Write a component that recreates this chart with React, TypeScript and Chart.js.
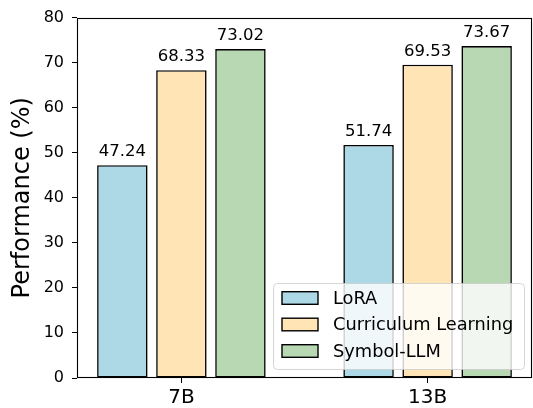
import React, { useEffect, useRef } from 'react';
import { Chart, registerables } from 'chart.js';

Chart.register(...registerables);

const FONT = "'DejaVu Sans', sans-serif";

const categories = ['7B', '13B'];
const seriesLabels = ['LoRA', 'Curriculum Learning', 'Symbol-LLM'];
const loraValues = [47.24, 51.74];
const curriculumValues = [68.33, 69.53];
const symbolLlmValues = [73.02, 73.67];
const seriesColors = ['#add8e6', '#ffe4b5', '#b8d8b4'];
const yMin = 0;
const yMax = 80;
const yStep = 10;

const barLabelPlugin = {
  id: 'barLabels',
  afterDatasetsDraw(chart: any) {
    const ctx = chart.ctx;
    ctx.save();
    ctx.font = `16.5px ${FONT}`;
    ctx.fillStyle = '#000';
    ctx.textAlign = 'center';
    ctx.textBaseline = 'alphabetic';
    chart.data.datasets.forEach((ds: any, i: number) => {
      const meta = chart.getDatasetMeta(i);
      meta.data.forEach((el: any, j: number) => {
        const v = ds.data[j].y;
        ctx.fillText(v.toFixed(2), el.x, el.y - 9);
      });
    });
    ctx.restore();
  },
};

const framePlugin = {
  id: 'frame',
  afterDatasetsDraw(chart: any) {
    const { left, top, right, bottom } = chart.chartArea;
    const ctx = chart.ctx;
    ctx.save();
    ctx.strokeStyle = '#000';
    ctx.lineWidth = 1.1;
    ctx.strokeRect(Math.round(left) + 0.5, Math.round(top) + 0.5, Math.round(right - left) - 1, Math.round(bottom - top) - 1);
    ctx.restore();
  },
};

const legendPlugin = {
  id: 'innerLegend',
  afterDraw(chart: any) {
    const ctx = chart.ctx;
    const { right, bottom } = chart.chartArea;
    const boxW = 251;
    const boxH = 86;
    const x0 = right - 8 - boxW;
    const y0 = bottom - 9 - boxH;
    ctx.save();
    ctx.globalAlpha = 0.8;
    ctx.beginPath();
    ctx.roundRect(x0 + 0.5, y0 + 0.5, boxW, boxH, 4);
    ctx.fillStyle = '#ffffff';
    ctx.fill();
    ctx.strokeStyle = '#cccccc';
    ctx.lineWidth = 1;
    ctx.stroke();
    ctx.globalAlpha = 1;
    ctx.font = `17.8px ${FONT}`;
    ctx.textAlign = 'left';
    ctx.textBaseline = 'middle';
    chart.data.datasets.forEach((ds: any, i: number) => {
      const cy = y0 + 15 + i * 26.5;
      ctx.fillStyle = ds.backgroundColor;
      ctx.fillRect(x0 + 9, cy - 6.3, 36, 12.6);
      ctx.strokeStyle = '#000';
      ctx.lineWidth = 1.4;
      ctx.strokeRect(x0 + 9, cy - 6.3, 36, 12.6);
      ctx.fillStyle = '#000';
      ctx.fillText(ds.label, x0 + 60, cy + 1);
    });
    ctx.restore();
  },
};

export default function App() {
  const ref = useRef<HTMLCanvasElement>(null);
  useEffect(() => {
    document.body.style.margin = '0';
    const seriesValues = [loraValues, curriculumValues, symbolLlmValues];
    const chart = new Chart(ref.current as HTMLCanvasElement, {
      type: 'bar',
      data: {
        datasets: seriesLabels.map((label, i) => ({
          label,
          data: seriesValues[i].map((v, j) => ({ x: j, y: v })),
          backgroundColor: seriesColors[i],
          borderColor: '#000',
          borderWidth: 1.6,
          borderSkipped: false,
          categoryPercentage: 0.7194,
          barPercentage: 0.855,
        })),
      },
      options: {
        animation: false,
        responsive: false,
        devicePixelRatio: 1,
        layout: { padding: { top: 15, right: 1, left: 0, bottom: 0 } },
        plugins: { legend: { display: false }, tooltip: { enabled: false } },
        scales: {
          x: {
            type: 'linear',
            min: -0.424,
            max: 1.424,
            offset: false,
            afterBuildTicks: (s: any) => {
              s.ticks = categories.map((_, i) => ({ value: i }));
            },
            ticks: {
              callback: (v: any) => categories[v] ?? '',
              font: { family: FONT, size: 20 },
              color: '#000',
              padding: 3,
              autoSkip: false,
              maxRotation: 0,
            },
            grid: {
              display: true,
              drawOnChartArea: false,
              drawTicks: true,
              tickLength: 5,
              color: '#000',
              tickColor: '#000',
              offset: false,
            },
            border: { display: false },
            afterFit: (s: any) => {
              s.height = 30;
            },
          },
          y: {
            min: yMin,
            max: yMax,
            ticks: {
              stepSize: yStep,
              font: { family: FONT, size: 16 },
              color: '#000',
              padding: 8,
            },
            grid: {
              display: true,
              drawOnChartArea: false,
              drawTicks: true,
              tickLength: 5,
              color: '#000',
              tickColor: '#000',
            },
            border: { display: false },
            title: {
              display: true,
              text: 'Performance (%)',
              font: { family: FONT, size: 24 },
              color: '#000',
              padding: { top: 8, bottom: 0 },
            },
            afterFit: (s: any) => {
              s.width = 77;
            },
          },
        },
      } as any,
      plugins: [barLabelPlugin, framePlugin, legendPlugin],
    });
    return () => chart.destroy();
  }, []);
  return (
    <div style={{ width: 533, height: 408 }}>
      <canvas ref={ref} width={533} height={408} style={{ display: 'block' }} />
    </div>
  );
}
